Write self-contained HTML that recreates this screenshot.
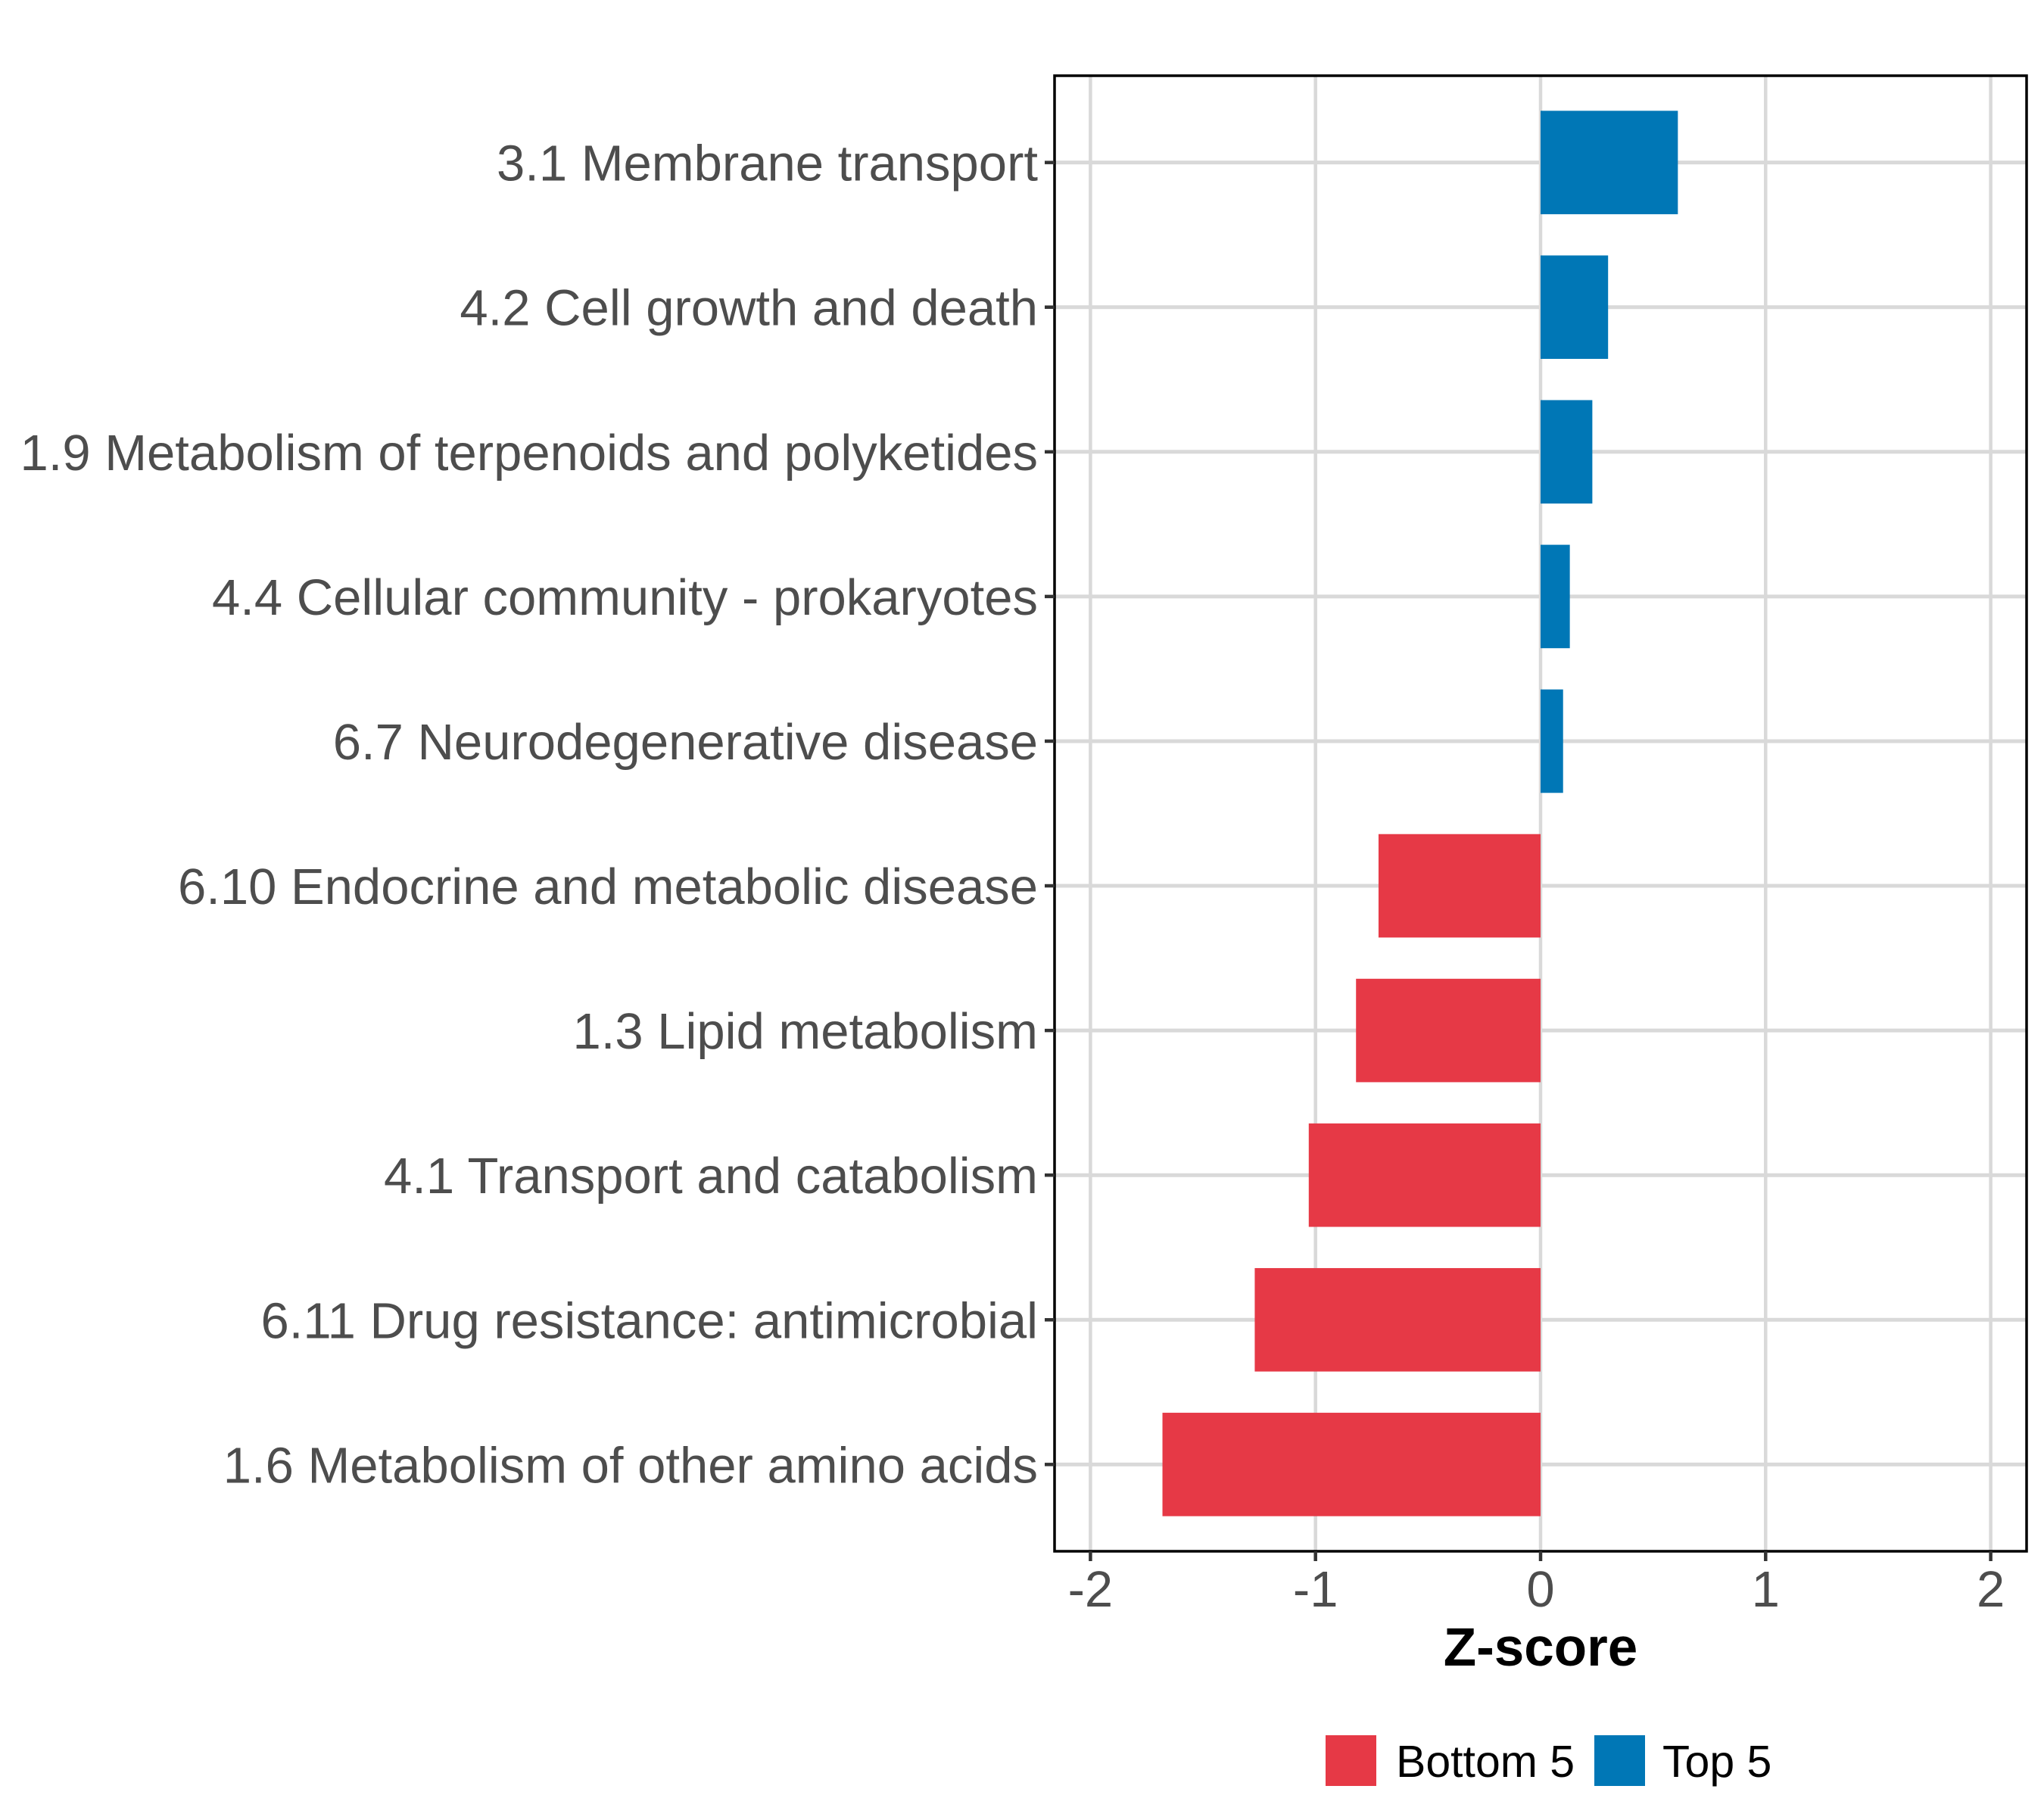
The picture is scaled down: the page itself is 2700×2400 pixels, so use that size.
<!DOCTYPE html>
<html><head><meta charset="utf-8"><style>
html,body{margin:0;padding:0;background:#fff;}
svg{display:block;}
text{font-family:"Liberation Sans",Arial,sans-serif;}
</style></head><body>
<svg id="chart" width="2700" height="2400" viewBox="0 0 2700 2400" xmlns="http://www.w3.org/2000/svg">
<rect x="0" y="0" width="2700" height="2400" fill="#fff"/>
<g id="grid"></g>
<g id="bars"></g>
<rect x="1393" y="100" width="1284" height="1949" fill="none" stroke="#000" stroke-width="3.5"/>
<g id="yaxis"></g>
<g id="xaxis"></g>
<text x="2035" y="2200" text-anchor="middle" font-size="71" font-weight="bold" fill="#000">Z-score</text>
<g>
<g>
<rect x="1751" y="2292" width="67" height="67" fill="#E63946"/>
<text x="1844" y="2347" font-size="59" fill="#000">Bottom 5</text>
</g>
<g>
<rect x="2106" y="2292" width="67" height="67" fill="#0077B6"/>
<text x="2196" y="2347" font-size="59" fill="#000">Top 5</text>
</g>
</g>
</svg>
<script>
const categories = ["3.1 Membrane transport","4.2 Cell growth and death","1.9 Metabolism of terpenoids and polyketides","4.4 Cellular community - prokaryotes","6.7 Neurodegenerative disease","6.10 Endocrine and metabolic disease","1.3 Lipid metabolism","4.1 Transport and catabolism","6.11 Drug resistance: antimicrobial","1.6 Metabolism of other amino acids"];
const zscores = [0.61, 0.30, 0.23, 0.13, 0.10, -0.72, -0.82, -1.03, -1.27, -1.68];
const groups = ["Top 5","Top 5","Top 5","Top 5","Top 5","Bottom 5","Bottom 5","Bottom 5","Bottom 5","Bottom 5"];
const xTicks = [-2, -1, 0, 1, 2];
const xTickLabels = ["-2","-1","0","1","2"];

const NS = "http://www.w3.org/2000/svg";
const panel = {left:1393, right:2677, top:100, bottom:2049};
const x0 = 2035, unit = 297.3;
function xScale(v){ return x0 + v*unit; }
const step = (panel.bottom - panel.top) / (categories.length - 1 + 1.2);
function yScale(i){ return panel.top + step*(0.6 + i); }
const barH = step*0.715;
const colors = {"Top 5":"#0077B6","Bottom 5":"#E63946"};
function mk(tag, attrs, parent){ const e=document.createElementNS(NS,tag); for(const k in attrs) e.setAttribute(k,attrs[k]); parent.appendChild(e); return e; }

const grid = document.getElementById('grid');
xTicks.forEach((t)=>{
  const l = mk('line',{x1:xScale(t),x2:xScale(t),y1:panel.top,y2:panel.bottom,stroke:'#d9d9d9','stroke-width':4.5},grid);
  
  
});
categories.forEach((c,i)=>{
  const l = mk('line',{x1:panel.left,x2:panel.right,y1:yScale(i),y2:yScale(i),stroke:'#d9d9d9','stroke-width':5},grid);
  
  
});

const bars = document.getElementById('bars');
zscores.forEach((v,i)=>{
  const xa = Math.min(xScale(0), xScale(v)), xb = Math.max(xScale(0), xScale(v));
  const r = mk('rect',{x:xa,y:yScale(i)-barH/2,width:xb-xa,height:barH,fill:colors[groups[i]]},bars);
  
  
});

const yaxis = document.getElementById('yaxis');
categories.forEach((c,i)=>{
  const tk = mk('line',{x1:panel.left-13,x2:panel.left,y1:yScale(i),y2:yScale(i),stroke:'#333','stroke-width':4.5},yaxis);
  
  
  const t = mk('text',{x:panel.left-22,y:yScale(i)+24,'text-anchor':'end','font-size':67,fill:'#4d4d4d'},yaxis);
  t.textContent = c;
  
  
});

const xaxis = document.getElementById('xaxis');
xTicks.forEach((v,i)=>{
  const tk = mk('line',{x1:xScale(v),x2:xScale(v),y1:panel.bottom,y2:panel.bottom+13,stroke:'#333','stroke-width':4.5},xaxis);
  
  
  const t = mk('text',{x:xScale(v),y:panel.bottom+73,'text-anchor':'middle','font-size':67,fill:'#4d4d4d'},xaxis);
  t.textContent = xTickLabels[i];
  
  
});
</script>
</body></html>
